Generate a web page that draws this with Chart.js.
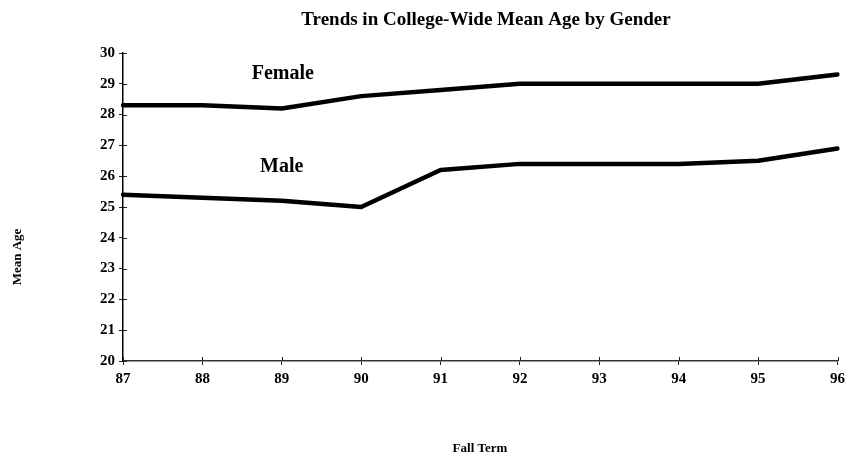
<!DOCTYPE html>
<html>
<head>
<meta charset="utf-8">
<script src="https://cdn.jsdelivr.net/npm/chart.js@4"></script>
<style>
html,body{margin:0;padding:0;background:#fff;}
#wrap{width:850px;height:460px;position:relative;}
</style>
</head>
<body>
<div id="wrap"><canvas id="c" width="850" height="460"></canvas></div>
<script>
const categories = ['87','88','89','90','91','92','93','94','95','96'];
const femaleValues = [28.3, 28.3, 28.2, 28.6, 28.8, 29.0, 29.0, 29.0, 29.0, 29.3];
const maleValues = [25.4, 25.3, 25.2, 25.0, 26.2, 26.4, 26.4, 26.4, 26.5, 26.9];
const yTicks = [20,21,22,23,24,25,26,27,28,29,30];
const titleText = 'Trends in College-Wide Mean Age by Gender';
const xTitle = 'Fall Term';
const yTitle = 'Mean Age';
const seriesLabels = [{text:'Female', series:0, index:2, dy:-35, dx:1}, {text:'Male', series:1, index:2, dy:-34, dx:0}];

const FONT = '"Liberation Serif", "Times New Roman", serif';

const decor = {
  id: 'decor',
  afterDraw(chart) {
    const ctx = chart.ctx;
    const x = chart.scales.x, y = chart.scales.y;
    const ca = chart.chartArea;
    ctx.save();
    ctx.strokeStyle = '#222';
    ctx.lineWidth = 1;
    yTicks.forEach(v => {
      const py = Math.round(y.getPixelForValue(v)) + 0.5;
      ctx.beginPath(); ctx.moveTo(ca.left, py); ctx.lineTo(ca.left + 4, py); ctx.stroke();
    });
    categories.forEach((c, i) => {
      const px = Math.round(x.getPixelForValue(i)) + 0.5;
      ctx.beginPath(); ctx.moveTo(px, ca.bottom); ctx.lineTo(px, ca.bottom - 4); ctx.stroke();
    });
    ctx.fillStyle = '#000';
    ctx.textAlign = 'center';
    ctx.textBaseline = 'middle';
    ctx.font = 'bold 19px ' + FONT;
    ctx.fillText(titleText, 486, 20);
    ctx.font = 'bold 13px ' + FONT;
    ctx.fillText(xTitle, 480, 449);
    ctx.save();
    ctx.translate(18, 257);
    ctx.rotate(-Math.PI / 2);
    ctx.fillText(yTitle, 0, 0);
    ctx.restore();
    ctx.font = 'bold 20px ' + FONT;
    seriesLabels.forEach(s => {
      const meta = chart.getDatasetMeta(s.series);
      const pt = meta.data[s.index];
      ctx.fillText(s.text, pt.x + s.dx, pt.y + s.dy);
    });
    ctx.restore();
  }
};

new Chart(document.getElementById('c'), {
  type: 'line',
  data: {
    labels: categories,
    datasets: [
      {label: 'Female', data: femaleValues, borderColor: '#000', borderWidth: 4.5, pointRadius: 0, tension: 0, fill: false, borderCapStyle: 'round', borderJoinStyle: 'round'},
      {label: 'Male', data: maleValues, borderColor: '#000', borderWidth: 4.5, pointRadius: 0, tension: 0, fill: false, borderCapStyle: 'round', borderJoinStyle: 'round'}
    ]
  },
  options: {
    responsive: false,
    animation: false,
    devicePixelRatio: 1,
    layout: {padding: {top: 53, right: 12, bottom: 0, left: 0}},
    plugins: {legend: {display: false}, tooltip: {enabled: false}, title: {display: false}},
    scales: {
      x: {
        offset: false,
        grid: {display: true, drawOnChartArea: false, drawTicks: true, tickLength: 4, color: '#222'},
        border: {display: true, color: '#333', width: 1.5},
        ticks: {color: '#000', font: {family: FONT, size: 15, weight: 'bold'}, padding: 5, maxRotation: 0, autoSkip: false},
        afterFit(s) { s.height = 99; }
      },
      y: {
        min: 20, max: 30,
        afterBuildTicks(s) { s.ticks = yTicks.map(v => ({value: v})); },
        grid: {display: true, drawOnChartArea: false, drawTicks: true, tickLength: 4, color: '#222'},
        border: {display: true, color: '#000', width: 1.5},
        ticks: {color: '#000', font: {family: FONT, size: 15, weight: 'bold'}, padding: 4},
        afterFit(s) { s.width = 123; }
      }
    }
  },
  plugins: [decor]
});
</script>
</body>
</html>
